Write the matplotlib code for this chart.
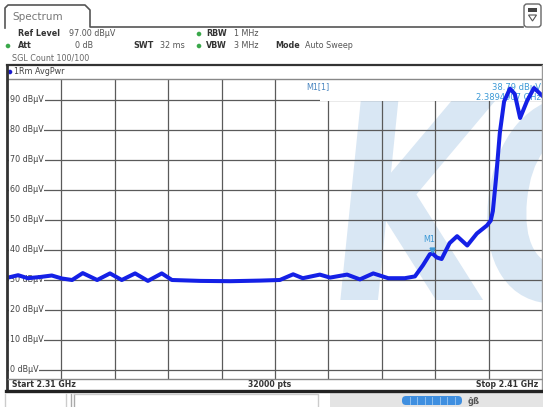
import matplotlib
matplotlib.use('Agg')
import matplotlib.pyplot as plt
from matplotlib.patches import Rectangle, FancyBboxPatch, PathPatch, Circle, Polygon
from matplotlib.textpath import TextPath
from matplotlib.font_manager import FontProperties
from matplotlib.transforms import Affine2D

W, H = 543, 407

# ---------------- data ----------------
freq_ghz = [2.3100, 2.3119, 2.3137, 2.3160, 2.3182, 2.3201, 2.3220, 2.3240,
            2.3267, 2.3291, 2.3313, 2.3338, 2.3362, 2.3388, 2.3407, 2.3460,
            2.3516, 2.3572, 2.3609, 2.3634, 2.3652, 2.3684, 2.3703, 2.3735,
            2.3759, 2.3784, 2.3812, 2.3843, 2.3862, 2.3877, 2.3890, 2.3895,
            2.3903, 2.3912, 2.3927, 2.3941, 2.3960, 2.3978, 2.3997, 2.4004,
            2.4008, 2.4014, 2.4021, 2.4029, 2.4040, 2.4049, 2.4059, 2.4072,
            2.4085, 2.4100]
level_dbuv = [30.8, 31.6, 30.6, 31.0, 31.5, 30.5, 30.0, 32.3,
              30.0, 32.2, 30.0, 32.2, 29.7, 32.2, 30.0, 29.7,
              29.6, 29.8, 30.0, 31.9, 30.6, 31.8, 30.8, 31.8,
              30.2, 32.2, 30.6, 30.6, 31.2, 34.9, 38.6, 38.8,
              37.5, 37.0, 42.3, 44.6, 41.5, 45.5, 48.2, 49.8,
              53.0, 64.0, 79.0, 89.5, 93.8, 92.0, 84.0, 89.7,
              94.0, 91.5]

y_ticks = [0, 10, 20, 30, 40, 50, 60, 70, 80, 90]
y_tick_labels = [f'{v} dBµV' for v in y_ticks]
x_grid = [2.32, 2.33, 2.34, 2.35, 2.36, 2.37, 2.38, 2.39, 2.40]
start_ghz, stop_ghz = 2.31, 2.41
ref_level = 97.0
n_points = 32000
marker_freq = 2.3894907
marker_level = 38.79

TRACE = '#1420e6'
MARK = '#3d9ad6'
TXT = '#333333'
GRID = '#5a5a5a'

fig = plt.figure(figsize=(W / 100, H / 100), dpi=100)
fig.patch.set_facecolor('white')


def px_rect(x0, y0, x1, y1):
    return [x0 / W, 1 - y1 / H, (x1 - x0) / W, (y1 - y0) / H]


# ---------------- main diagram ----------------
ax = fig.add_axes(px_rect(8, 79, 542, 379))
ax.set_xlim(start_ghz, stop_ghz)
ax.set_ylim(ref_level - 100, ref_level)
ax.set_xticks([])
ax.set_yticks([])
for s in ax.spines.values():
    s.set_visible(False)

# watermark
fp = FontProperties(family='DejaVu Sans', weight='bold')
tp = TextPath((0, 0), 'KC', size=1, prop=fp)
wm = PathPatch(tp, transform=Affine2D().skew_deg(8, 0).scale(200, 275).translate(322, H - 300),
               facecolor='#d9e7f4', edgecolor='none', zorder=1)
wm.set_clip_path(ax.patch)
ax.add_artist(wm)

# grid
for f in x_grid:
    ax.plot([f, f], [ref_level - 100, ref_level], color=GRID, lw=0.9, zorder=2)
for v, lab in zip(y_ticks, y_tick_labels):
    ax.axhline(v, color=GRID, lw=0.9, zorder=2)
    ax.text(2 / 534, v, lab, transform=ax.get_yaxis_transform(), ha='left',
            va='center', fontsize=5.8, color='#444444', zorder=3,
            bbox=dict(facecolor='white', edgecolor='none', pad=0.6))

# marker info box
ax.add_patch(Rectangle(((320 - 8) / 534, (379 - 101) / 300), 1, 1,
                       transform=ax.transAxes, facecolor='white',
                       edgecolor='none', zorder=3))
ax.text((318 - 8) / 534, (379 - 87) / 300, 'M1[1]', transform=ax.transAxes,
        ha='center', va='center', fontsize=5.8, color='#4a86c0', zorder=4)
ax.text(0.998, (379 - 87) / 300, f'{marker_level:.2f} dBµV', transform=ax.transAxes,
        ha='right', va='center', fontsize=6, color=MARK, zorder=4)
ax.text(0.998, (379 - 97.5) / 300, f'{marker_freq:.7f} GHz', transform=ax.transAxes,
        ha='right', va='center', fontsize=6, color=MARK, zorder=4)

# trace
ax.plot(freq_ghz, level_dbuv, color=TRACE, lw=2.9, zorder=5, solid_joinstyle='round')

# marker
ax.plot([marker_freq], [marker_level + 1.2], marker='v', ms=3.5, color=MARK, zorder=6)
ax.text(marker_freq - 0.0006, marker_level + 3.2, 'M1', ha='center', va='bottom',
        fontsize=5.8, color=MARK, zorder=6)

# ---------------- overlay (screen frame, header, footer) ----------------
ov = fig.add_axes([0, 0, 1, 1])
ov.set_xlim(0, W)
ov.set_ylim(H, 0)
ov.axis('off')

# tab
ov.plot([5, 5, 8, 85, 90, 90, 523], [28, 8, 5, 5, 10, 27, 27], color='#555555', lw=1.2)
ov.text(12, 17, 'Spectrum', fontsize=7.5, color='#777777', va='center', ha='left')
# icon
ov.add_patch(FancyBboxPatch((524, 4), 17, 23, boxstyle='round,pad=0,rounding_size=3',
                            facecolor='white', edgecolor='#666666', lw=1))
ov.add_patch(Rectangle((528, 8), 9, 4, facecolor='#444444', edgecolor='none'))
ov.add_patch(Polygon([[528.5, 15], [536.5, 15], [532.5, 21]], closed=True,
                     facecolor='white', edgecolor='#555555', lw=0.8))

# header info
fs = 5.8
ov.text(18, 34, 'Ref Level', fontsize=fs, weight='bold', color=TXT, va='center')
ov.text(69, 34, '97.00 dBµV', fontsize=fs, color='#555555', va='center')
ov.text(18, 46, 'Att', fontsize=fs, weight='bold', color=TXT, va='center')
ov.text(93, 46, '0 dB', fontsize=fs, color='#555555', va='center', ha='right')
ov.text(133, 46, 'SWT', fontsize=fs, weight='bold', color=TXT, va='center')
ov.text(160, 46, '32 ms', fontsize=fs, color='#555555', va='center')
ov.text(206, 34, 'RBW', fontsize=fs, weight='bold', color=TXT, va='center')
ov.text(234, 34, '1 MHz', fontsize=fs, color='#555555', va='center')
ov.text(206, 46, 'VBW', fontsize=fs, weight='bold', color=TXT, va='center')
ov.text(234, 46, '3 MHz', fontsize=fs, color='#555555', va='center')
ov.text(275, 46, 'Mode', fontsize=fs, weight='bold', color=TXT, va='center')
ov.text(305, 46, 'Auto Sweep', fontsize=fs, color='#555555', va='center')
ov.text(12, 58, 'SGL Count 100/100', fontsize=fs, color='#666666', va='center')
for cx, cy in [(8, 46), (199, 34), (199, 46)]:
    ov.add_patch(Circle((cx, cy), 2.3, facecolor='#3aa84a', edgecolor='none'))

# trace label row
ov.plot([7, 542], [65, 65], color='#333333', lw=1.6)
ov.add_patch(Circle((10, 72), 2.3, facecolor='#1a1acc', edgecolor='none'))
ov.text(14, 72, '1Rm AvgPwr', fontsize=fs, color='#444444', va='center')
ov.plot([8, 542], [79, 79], color='#888888', lw=1)

# frame
ov.plot([7, 7], [65, 391], color='#333333', lw=2)
ov.plot([542, 542], [65, 391], color='#999999', lw=1)
ov.plot([8, 542], [379, 379], color='#888888', lw=1)
ov.plot([6, 543], [391, 391], color='#222222', lw=2.4)

# footer text
ov.text(12, 384.5, f'Start {start_ghz:.2f} GHz', fontsize=5.6, weight='bold', color=TXT, va='center')
ov.text(270, 384.5, f'{n_points} pts', fontsize=5.6, weight='bold', color=TXT, va='center', ha='center')
ov.text(538, 384.5, f'Stop {stop_ghz:.2f} GHz', fontsize=5.6, weight='bold', color=TXT, va='center', ha='right')

# status bar
ov.add_patch(Rectangle((330, 393), 213, 14, facecolor='#e4e4e4', edgecolor='none'))
ov.plot([5, 5], [394, 407], color='#cccccc', lw=1)
ov.plot([66, 66], [394, 407], color='#cccccc', lw=1)
ov.plot([71, 71], [394, 407], color='#aaaaaa', lw=1)
ov.plot([74, 74], [394, 407], color='#aaaaaa', lw=1)
ov.plot([74, 318, 318], [394, 394, 407], color='#cccccc', lw=1)
ov.add_patch(FancyBboxPatch((402, 396), 60, 9, boxstyle='round,pad=0,rounding_size=4',
                            facecolor='#3f8fe0', edgecolor='none'))
for k in range(1, 8):
    ov.plot([402 + k * 7.5, 402 + k * 7.5], [397, 404], color='#9cc8f2', lw=0.6)
ov.text(468, 401, 'ĝß', fontsize=6, color='#555555', va='center', weight='bold')

fig.savefig('out.png', dpi=100)
